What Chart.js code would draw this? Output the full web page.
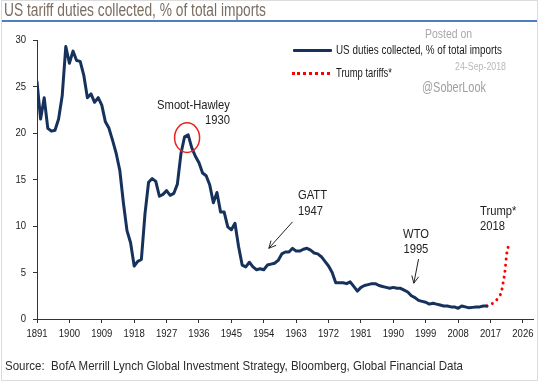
<!DOCTYPE html>
<html>
<head>
<meta charset="utf-8">
<script src="https://cdn.jsdelivr.net/npm/chart.js@4.4.1/dist/chart.umd.min.js"></script>
<style>
  html, body { margin: 0; padding: 0; background: #fff; }
  #wrap { position: relative; width: 540px; height: 382px; overflow: hidden; background: #fff; }
  #frame { position: absolute; left: 1px; top: 0px; width: 535px; height: 379px; border: 1px solid #dcdcdc; box-sizing: content-box; }
  canvas { position: absolute; left: 0; top: 0; }
  .t { position: absolute; white-space: nowrap; transform-origin: 0 0; font-family: "Liberation Sans", Arial, sans-serif; }
  #title { left: 4px; top: 0px; font-size: 17.5px; color: #7a6d62; }
  #rule { position: absolute; left: 2px; top: 20px; width: 535px; height: 1.5px; background: #4f7fbf; }
  #source { left: 5px; top: 358px; font-size: 13.5px; color: #2b2b2b; }
  .leg { font-size: 12.5px; color: #1a1a1a; }
  .wm { color: #a8a8a8; }
  #l1line { position: absolute; left: 293px; top: 49px; width: 39px; height: 3px; background: #16325c; border-radius: 1px; }
  #l2dots { position: absolute; left: 292px; top: 72px; width: 38px; height: 0; border-top: 3px dotted #ff0000; }
</style>
</head>
<body>
<div id="wrap">
  <div id="frame"></div>
  <canvas id="c" width="540" height="382"></canvas>
  <div class="t" id="title" data-w="262">US tariff duties collected, % of total imports</div>
  <div id="rule"></div>
  <div class="t wm" style="left:425px; top:27px; font-size:12.5px;" data-w="47">Posted on</div>
  <div class="t wm" style="left:455px; top:60px; font-size:10.5px; color:#b8b8b8;" data-w="51">24-Sep-2018</div>
  <div class="t wm" style="left:422px; top:79px; font-size:14px; color:#a0a0a0;" data-w="64">@SoberLook</div>
  <div id="l1line"></div>
  <div class="t leg" style="left:336px; top:43px;" data-w="166">US duties collected, % of total imports</div>
  <div id="l2dots"></div>
  <div class="t leg" style="left:336px; top:66px;" data-w="56">Trump tariffs*</div>
  <div class="t" id="source" data-w="458">Source:&nbsp; BofA Merrill Lynch Global Investment Strategy, Bloomberg, Global Financial Data</div>
</div>
<script>
// ---- Data ----
const years = [
  1891,1892,1893,1894,1895,1896,1897,1898,1899,1900,
  1901,1902,1903,1904,1905,1906,1907,1908,1909,1910,
  1911,1912,1913,1914,1915,1916,1917,1918,1919,1920,
  1921,1922,1923,1924,1925,1926,1927,1928,1929,1930,
  1931,1932,1933,1934,1935,1936,1937,1938,1939,1940,
  1941,1942,1943,1944,1945,1946,1947,1948,1949,1950,
  1951,1952,1953,1954,1955,1956,1957,1958,1959,1960,
  1961,1962,1963,1964,1965,1966,1967,1968,1969,1970,
  1971,1972,1973,1974,1975,1976,1977,1978,1979,1980,
  1981,1982,1983,1984,1985,1986,1987,1988,1989,1990,
  1991,1992,1993,1994,1995,1996,1997,1998,1999,2000,
  2001,2002,2003,2004,2005,2006,2007,2008,2009,2010,
  2011,2012,2013,2014,2015,2016
];
const dutiesPct = [
  25.5,21.5,23.8,20.5,20.2,20.3,21.5,24.0,29.3,27.5,
  28.8,27.8,27.7,26.2,23.8,24.2,23.3,23.8,23.0,21.2,
  20.5,19.2,17.8,16.0,12.5,9.5,8.2,5.7,6.2,6.4,
  11.3,14.7,15.1,14.8,13.2,13.4,13.8,13.3,13.5,14.5,
  17.8,19.6,19.8,18.4,17.5,16.8,15.7,15.4,14.4,12.5,
  13.6,11.5,11.5,9.9,9.6,10.3,7.8,5.8,5.6,6.1,
  5.6,5.3,5.4,5.3,5.8,5.9,6.0,6.3,7.0,7.2,
  7.2,7.6,7.3,7.3,7.5,7.6,7.4,7.1,7.0,6.7,
  6.2,5.7,5.0,3.9,3.9,3.9,3.8,4.0,3.5,3.0,
  3.4,3.6,3.7,3.8,3.8,3.6,3.5,3.4,3.3,3.4,
  3.3,3.3,3.1,2.9,2.5,2.3,2.0,1.9,1.8,1.6,
  1.7,1.6,1.5,1.4,1.4,1.3,1.3,1.15,1.4,1.3,
  1.2,1.25,1.3,1.3,1.4,1.4
];
const trumpYears = [2016, 2017, 2018, 2019, 2020, 2020.5, 2021, 2021.5, 2022];
const trumpPct   = [1.4, 1.55, 1.8, 2.2, 2.9, 3.9, 5.1, 7.0, 7.9];
const xTickYears = [1891,1900,1909,1918,1927,1936,1945,1954,1963,1972,1981,1990,1999,2008,2017,2026];
const yTickValues = [0,5,10,15,20,25,30];

const labelsDuties = 'US duties collected, % of total imports';
const labelsTrump = 'Trump tariffs*';

// annotation anchors, in data units (year, %)
const notes = [
  { text: 'Smoot-Hawley', x: 1944.6, y: 23.0, align: 'right' },
  { text: '1930',         x: 1944.6, y: 21.4, align: 'right' },
  { text: 'GATT',         x: 1963.5, y: 13.3, align: 'left' },
  { text: '1947',         x: 1963.5, y: 11.6, align: 'left' },
  { text: 'WTO',          x: 1992.7, y: 9.15, align: 'left' },
  { text: '1995',         x: 1992.8, y: 7.5,  align: 'left' },
  { text: 'Trump*',       x: 2014.1, y: 11.55, align: 'left' },
  { text: '2018',         x: 2014.1, y: 9.95, align: 'left' }
];
const arrows = [
  { from: [1962.0, 10.45], to: [1955.4, 7.6] },
  { from: [1997.0, 6.45],  to: [1995.7, 3.85] }
];
const circle = { x: 1932.7, y: 19.5 };

const FONT = '"Liberation Sans", Arial, sans-serif';
const NARROW = 0.83;

// draw text horizontally condensed (Arial Narrow look)
function narrowText(ctx, text, x, y, align, size, color) {
  ctx.save();
  ctx.font = size + 'px ' + FONT;
  ctx.fillStyle = color;
  ctx.textBaseline = 'middle';
  ctx.textAlign = align;
  ctx.translate(x, y);
  ctx.scale(NARROW, 1);
  ctx.fillText(text, 0, 0);
  ctx.restore();
}

const tickLabelPlugin = {
  id: 'tickLabels',
  afterDraw(chart) {
    const ctx = chart.ctx, xs = chart.scales.x, ys = chart.scales.y;
    xs.ticks.forEach(t => {
      narrowText(ctx, String(t.value), xs.getPixelForValue(t.value), xs.top + 15, 'center', 11.5, '#222');
    });
    ys.ticks.forEach(t => {
      narrowText(ctx, String(t.value), ys.right - 11, ys.getPixelForValue(t.value), 'right', 11.5, '#222');
    });
  }
};

const annotPlugin = {
  id: 'annot',
  afterDatasetsDraw(chart) {
    const ctx = chart.ctx, xs = chart.scales.x, ys = chart.scales.y;
    notes.forEach(n => {
      narrowText(ctx, n.text, xs.getPixelForValue(n.x), ys.getPixelForValue(n.y), n.align, 13.5, '#222');
    });
    ctx.save();
    // red circle
    ctx.strokeStyle = '#e8231f';
    ctx.lineWidth = 1.5;
    ctx.beginPath();
    ctx.ellipse(xs.getPixelForValue(circle.x), ys.getPixelForValue(circle.y), 12.5, 14.8, 0, 0, Math.PI * 2);
    ctx.stroke();
    // arrows
    ctx.strokeStyle = '#222';
    ctx.lineWidth = 1;
    arrows.forEach(a => {
      const x1 = xs.getPixelForValue(a.from[0]), y1 = ys.getPixelForValue(a.from[1]);
      const x2 = xs.getPixelForValue(a.to[0]),   y2 = ys.getPixelForValue(a.to[1]);
      const ang = Math.atan2(y2 - y1, x2 - x1), L = 8, s = 0.45;
      ctx.beginPath();
      ctx.moveTo(x1, y1); ctx.lineTo(x2, y2);
      ctx.moveTo(x2 - L * Math.cos(ang - s), y2 - L * Math.sin(ang - s));
      ctx.lineTo(x2, y2);
      ctx.lineTo(x2 - L * Math.cos(ang + s), y2 - L * Math.sin(ang + s));
      ctx.stroke();
    });
    ctx.restore();
  }
};

new Chart(document.getElementById('c'), {
  type: 'line',
  data: {
    datasets: [
      {
        label: labelsDuties,
        data: years.map((y, i) => ({ x: y, y: dutiesPct[i] })),
        borderColor: '#16325c',
        borderWidth: 3,
        pointRadius: 0,
        tension: 0,
        borderJoinStyle: 'round',
        borderCapStyle: 'round'
      },
      {
        label: labelsTrump,
        data: trumpYears.map((y, i) => ({ x: y, y: trumpPct[i] })),
        borderColor: '#ff0000',
        borderWidth: 3,
        borderDash: [0.01, 6],
        borderCapStyle: 'round',
        pointRadius: 0,
        cubicInterpolationMode: 'monotone'
      }
    ]
  },
  options: {
    responsive: false,
    animation: false,
    events: [],
    layout: { padding: { top: 40, left: 0, right: 7, bottom: 33 } },
    plugins: { legend: { display: false }, tooltip: { enabled: false }, title: { display: false } },
    scales: {
      x: {
        type: 'linear',
        min: 1891,
        max: 2028.8,
        afterFit(s) { s.height = 30; },
        afterBuildTicks(s) { s.ticks = xTickYears.map(v => ({ value: v })); },
        grid: { display: true, drawOnChartArea: false, drawTicks: true, tickLength: 4, color: '#333', lineWidth: 1 },
        border: { display: true, color: '#333', width: 1 },
        ticks: { display: false, autoSkip: false }
      },
      y: {
        min: 0,
        max: 30,
        afterFit(s) { s.width = 37; },
        afterBuildTicks(s) { s.ticks = yTickValues.map(v => ({ value: v })); },
        grid: { display: true, drawOnChartArea: false, drawTicks: true, tickLength: 4, color: '#333', lineWidth: 1 },
        border: { display: true, color: '#333', width: 1 },
        ticks: { display: false }
      }
    }
  },
  plugins: [annotPlugin, tickLabelPlugin]
});

// fit HTML texts to measured widths
document.querySelectorAll('.t[data-w]').forEach(el => {
  const target = parseFloat(el.dataset.w);
  const w = el.getBoundingClientRect().width;
  if (w > 0) el.style.transform = 'scaleX(' + (target / w) + ')';
});
</script>
</body>
</html>
